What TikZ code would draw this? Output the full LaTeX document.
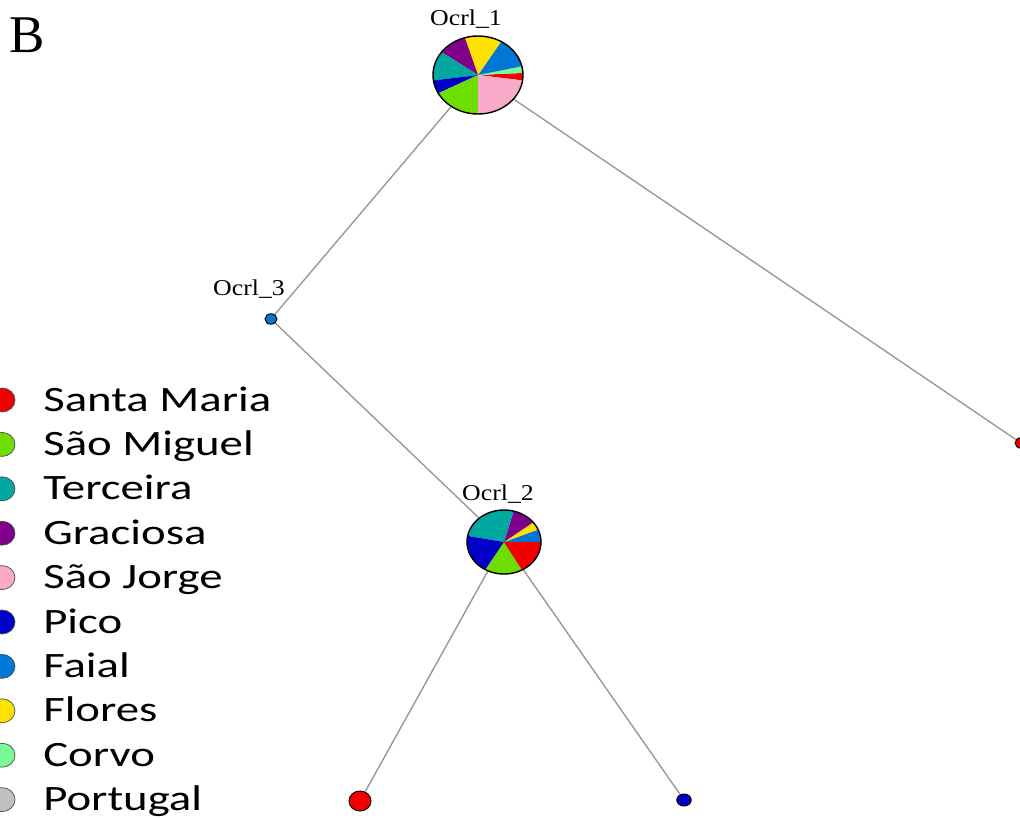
\documentclass[tikz,border=0pt]{standalone}
\usepackage{fontspec}
\usepackage{tikz}
\usetikzlibrary{shapes.geometric}
\newfontfamily\labfont[FakeStretch=1.14]{Liberation Serif}
\newfontfamily\panelfont{Liberation Serif}
\newfontfamily\keyfont[FakeStretch=1.31]{Carlito}
\definecolor{smaria}{RGB}{240,0,0}
\definecolor{smiguel}{RGB}{110,222,0}
\definecolor{terceira}{RGB}{0,168,160}
\definecolor{graciosa}{RGB}{128,0,140}
\definecolor{sjorge}{RGB}{248,170,200}
\definecolor{pico}{RGB}{0,0,200}
\definecolor{faial}{RGB}{0,118,215}
\definecolor{flores}{RGB}{255,225,0}
\definecolor{corvo}{RGB}{120,250,150}
\definecolor{portugal}{RGB}{192,192,192}
\tikzset{leaf/.style={ellipse,draw=black,line width=0.7pt,inner sep=0pt},
         edge/.style={draw=gray!80,line width=1pt},
         lab/.style={font=\labfont\fontsize{16.1}{18}\selectfont,inner sep=0pt},
         key/.style={ellipse,draw=gray!60!black,line width=0.5pt,inner sep=0pt,
                     minimum width=0.65cm,minimum height=0.6cm},
         keytext/.style={font=\keyfont\fontsize{25.4}{28}\selectfont,inner sep=0pt}}

\begin{document}
\begin{tikzpicture}[x=0.025cm,y=-0.025cm]
    \useasboundingbox (0,0) rectangle (1020,817);
    \node[font=\panelfont\fontsize{37.7}{40}\selectfont,inner sep=0pt,anchor=base west] (pB) at (9,52) {B};
    % haplotypes
    \coordinate (o1) at (478,75);
    \coordinate (o2) at (504,542);
    \node[leaf,fill=faial,minimum width=0.3cm,minimum height=0.26cm] (o3) at (271,319) {};
    \node[leaf,fill=smaria,minimum width=0.3cm,minimum height=0.26cm] (r1) at (1021,443) {};
    \node[leaf,fill=smaria,minimum width=0.55cm,minimum height=0.5cm] (l1) at (360,801) {};
    \node[leaf,fill=pico,minimum width=0.36cm,minimum height=0.3cm] (l2) at (684,800) {};
    \path[edge] (o1) -- (o3)
                (o1) -- (r1)
                (o3) -- (o2)
                (o2) -- (l1)
                (o2) -- (l2);
    % pies
    \foreach \a/\b/\c in {352/363/smaria,3/13/corvo,13/59/faial,59/107/flores,107/144/graciosa,
                          144/188/terceira,188/208/pico,208/270/smiguel,270/352/sjorge}
        \fill[\c] (o1) -- ++(-\a:45 and 39) arc[start angle=-\a,end angle=-\b,x radius=45,y radius=39] -- cycle;
    \draw[line width=1pt] (o1) ellipse[x radius=45,y radius=39];
    \foreach \a/\b/\c in {0/23/faial,23/38/flores,38/75/graciosa,75/169/terceira,
                          169/240/pico,240/299/smiguel,299/360/smaria}
        \fill[\c] (o2) -- ++(-\a:37 and 32) arc[start angle=-\a,end angle=-\b,x radius=37,y radius=32] -- cycle;
    \draw[line width=1pt] (o2) ellipse[x radius=37,y radius=32];
    \node[lab,anchor=base] (t1) at (466,25) {Ocrl\_1};
    \node[lab,anchor=base] (t2) at (498,500) {Ocrl\_2};
    \node[lab,anchor=base] (t3) at (249,295) {Ocrl\_3};
    % legend
    \foreach \nm/\cl [count=\i from 0] in {Santa Maria/smaria,São Miguel/smiguel,Terceira/terceira,
            Graciosa/graciosa,São Jorge/sjorge,Pico/pico,Faial/faial,Flores/flores,
            Corvo/corvo,Portugal/portugal}{
        \node[key,fill=\cl] (k\i) at (2,400+44.4*\i) {};
        \node[keytext,anchor=base west] (n\i) at (43,411+44.4*\i) {\nm};
    }
\end{tikzpicture}
\end{document}
